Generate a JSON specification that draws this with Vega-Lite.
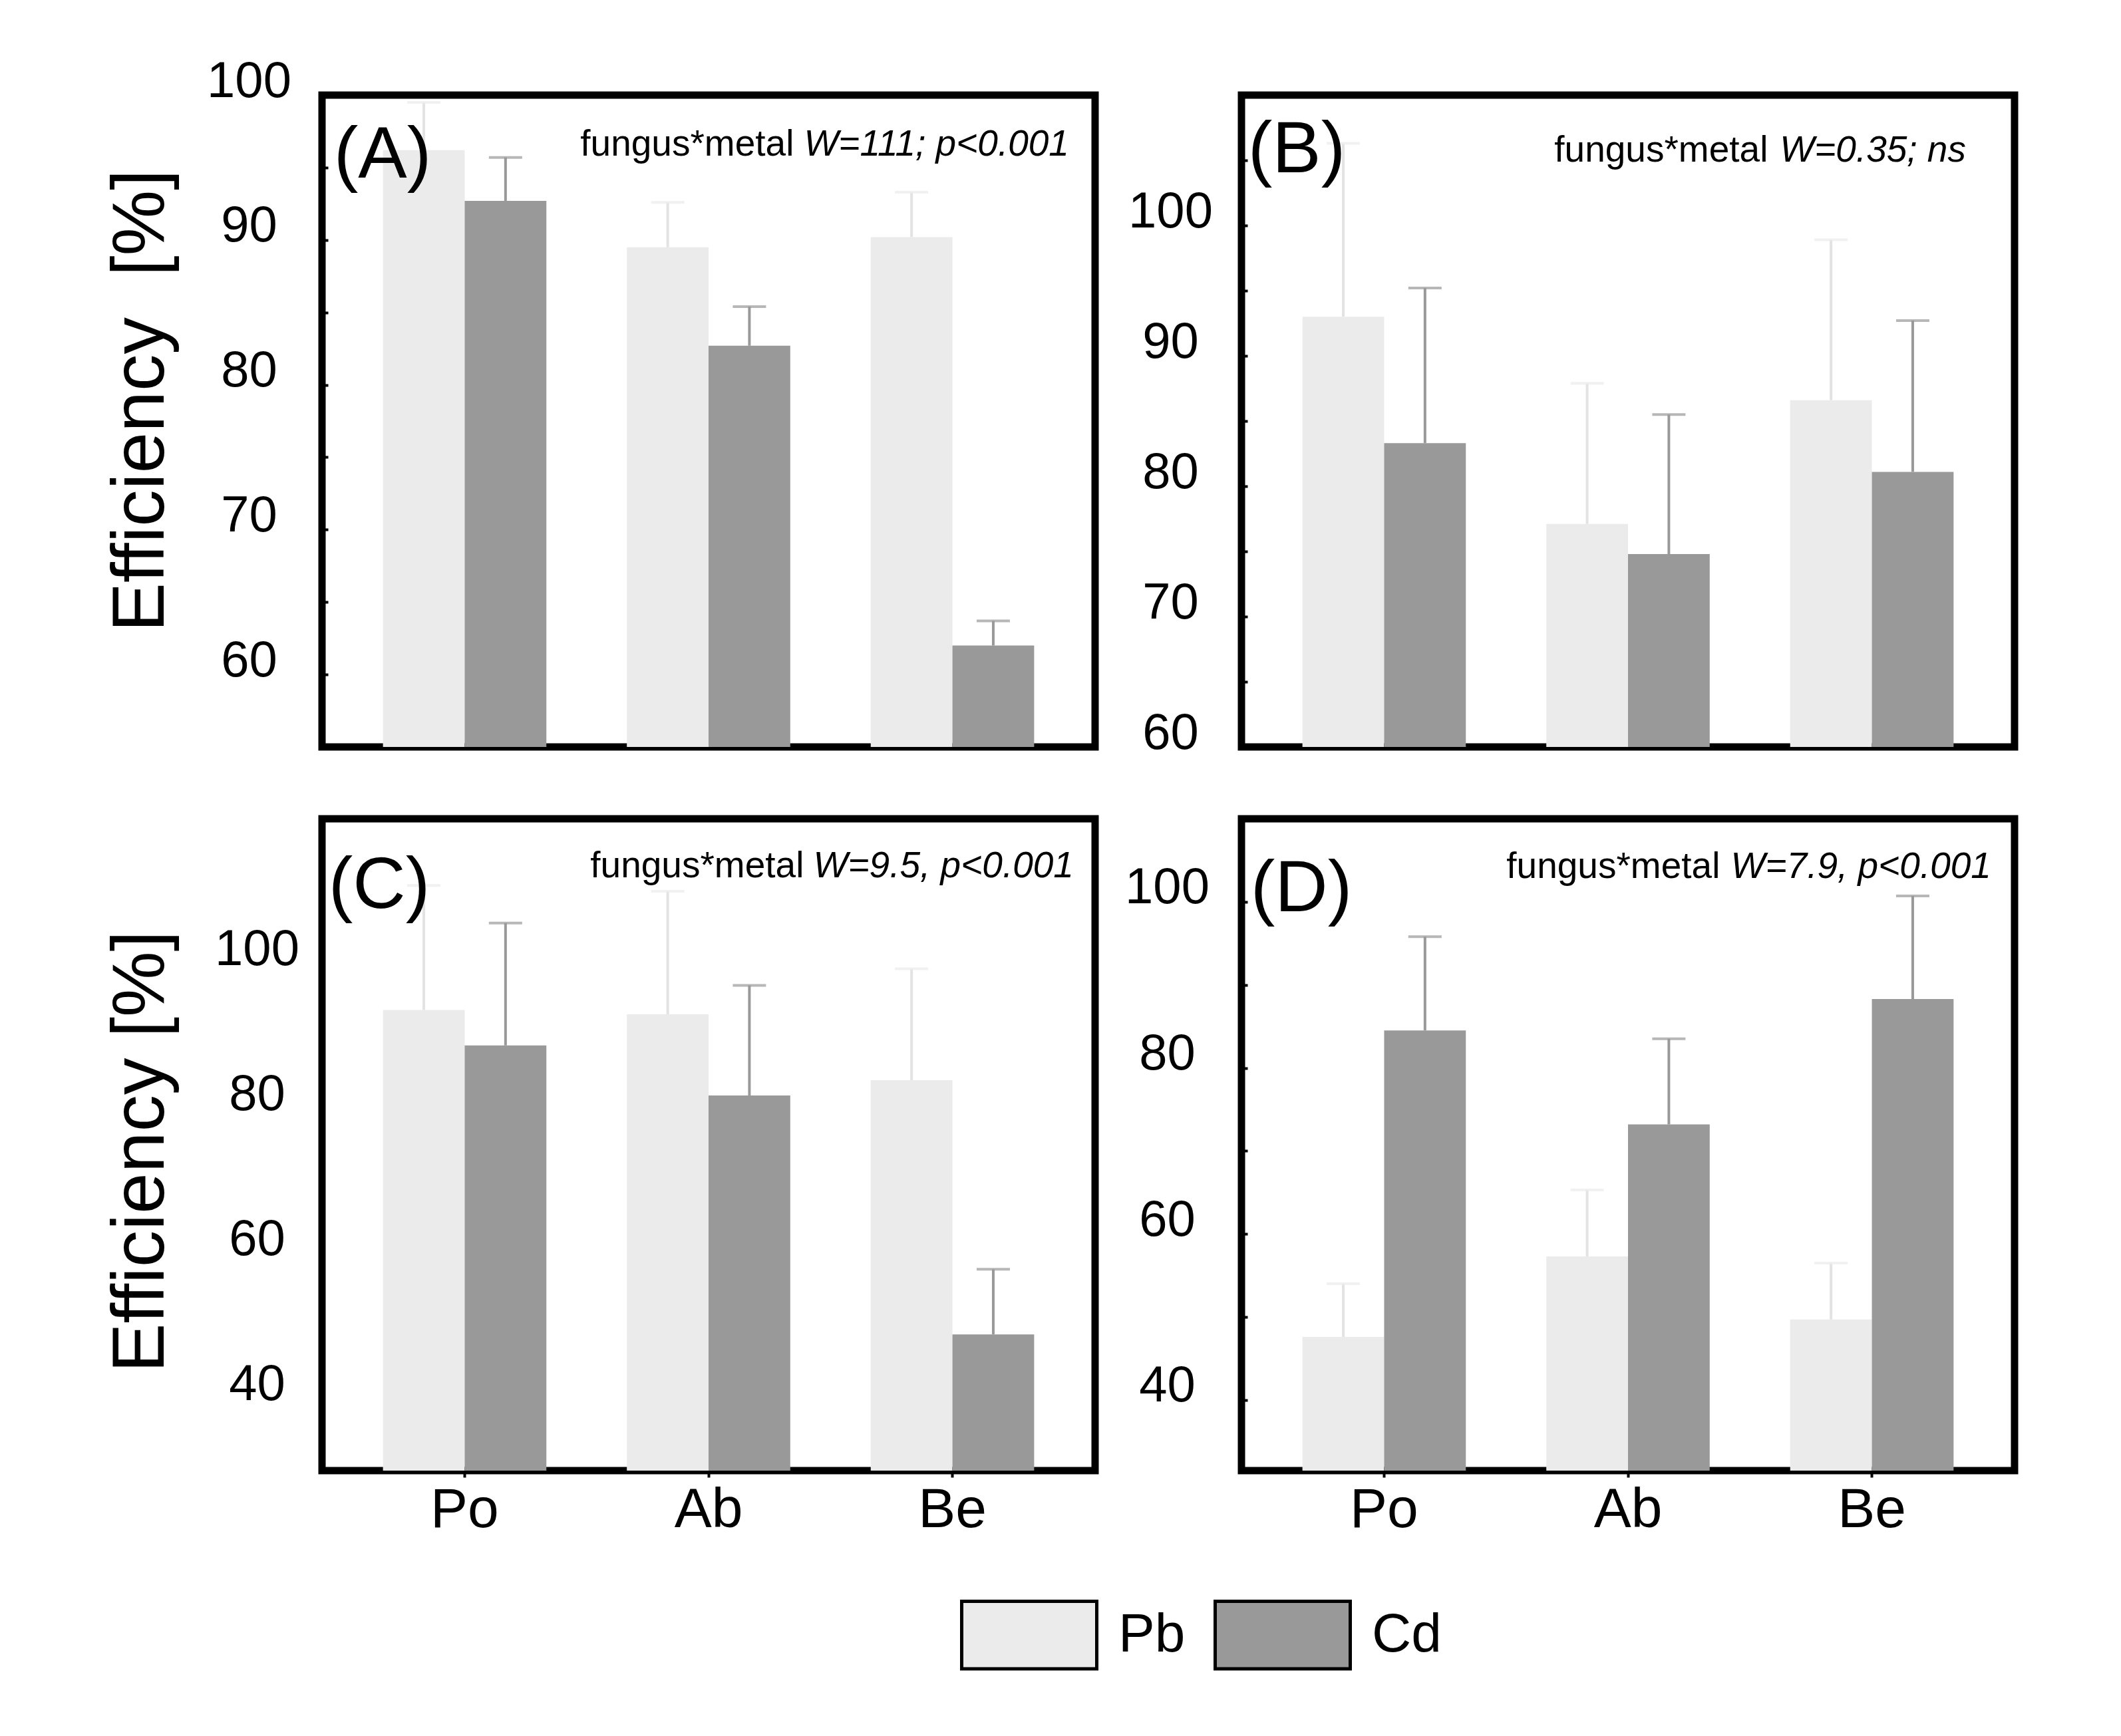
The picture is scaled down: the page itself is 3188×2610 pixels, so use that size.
{
  "$schema": "https://vega.github.io/schema/vega-lite/v6.json",
  "background": "white",
  "padding": {"left": 150, "top": 78, "right": 10, "bottom": 10},
  "datasets": {
    "bars": [
      {"panel": "A", "fungus": "Po", "metal": "Pb", "mean": 96.2, "upper": 99.5},
      {"panel": "A", "fungus": "Po", "metal": "Cd", "mean": 92.7, "upper": 95.7},
      {"panel": "A", "fungus": "Ab", "metal": "Pb", "mean": 89.5, "upper": 92.6},
      {"panel": "A", "fungus": "Ab", "metal": "Cd", "mean": 82.7, "upper": 85.4},
      {"panel": "A", "fungus": "Be", "metal": "Pb", "mean": 90.2, "upper": 93.3},
      {"panel": "A", "fungus": "Be", "metal": "Cd", "mean": 62.0, "upper": 63.7},
      {"panel": "B", "fungus": "Po", "metal": "Pb", "mean": 93.0, "upper": 106.3},
      {"panel": "B", "fungus": "Po", "metal": "Cd", "mean": 83.3, "upper": 95.2},
      {"panel": "B", "fungus": "Ab", "metal": "Pb", "mean": 77.1, "upper": 87.9},
      {"panel": "B", "fungus": "Ab", "metal": "Cd", "mean": 74.8, "upper": 85.5},
      {"panel": "B", "fungus": "Be", "metal": "Pb", "mean": 86.6, "upper": 98.9},
      {"panel": "B", "fungus": "Be", "metal": "Cd", "mean": 81.1, "upper": 92.7},
      {"panel": "C", "fungus": "Po", "metal": "Pb", "mean": 93.6, "upper": 110.8},
      {"panel": "C", "fungus": "Po", "metal": "Cd", "mean": 88.7, "upper": 105.6},
      {"panel": "C", "fungus": "Ab", "metal": "Pb", "mean": 93.0, "upper": 110.0},
      {"panel": "C", "fungus": "Ab", "metal": "Cd", "mean": 81.8, "upper": 97.0},
      {"panel": "C", "fungus": "Be", "metal": "Pb", "mean": 83.9, "upper": 99.3},
      {"panel": "C", "fungus": "Be", "metal": "Cd", "mean": 48.8, "upper": 57.8},
      {"panel": "D", "fungus": "Po", "metal": "Pb", "mean": 47.6, "upper": 54.0},
      {"panel": "D", "fungus": "Po", "metal": "Cd", "mean": 84.5, "upper": 95.8},
      {"panel": "D", "fungus": "Ab", "metal": "Pb", "mean": 57.3, "upper": 65.3},
      {"panel": "D", "fungus": "Ab", "metal": "Cd", "mean": 73.2, "upper": 83.5},
      {"panel": "D", "fungus": "Be", "metal": "Pb", "mean": 49.7, "upper": 56.5},
      {"panel": "D", "fungus": "Be", "metal": "Cd", "mean": 88.3, "upper": 100.7}
    ],
    "notes": [
      {"panel": "A", "letter": "(A)", "plain": "fungus*metal", "italic": "W=111; p<0.001"},
      {"panel": "B", "letter": "(B)", "plain": "fungus*metal", "italic": "W=0.35; ns"},
      {"panel": "C", "letter": "(C)", "plain": "fungus*metal", "italic": "W=9.5, p<0.001"},
      {"panel": "D", "letter": "(D)", "plain": "fungus*metal", "italic": "W=7.9, p<0.001"}
    ]
  },
  "columns": 2,
  "bounds": "flush",
  "spacing": {"row": 108, "column": 220},
  "concat": [
    {
      "width": 1162, "height": 980,
      "layer": [
        {
          "data": {"name": "bars"}, "transform": [{"filter": "datum.panel === 'A'"}],
          "mark": {"type": "bar", "clip": true},
          "encoding": {
            "x": {"field": "fungus", "type": "nominal", "title": null, "scale": {"domain": ["Po", "Ab", "Be"], "paddingInner": 0.33, "paddingOuter": 0.25}, "axis": {"labels": false, "ticks": false, "domain": false}},
            "xOffset": {"field": "metal", "type": "nominal", "scale": {"domain": ["Pb", "Cd"], "paddingInner": 0, "paddingOuter": 0}},
            "y": {"field": "mean", "type": "quantitative", "title": "Efficiency\u00a0\u00a0[%]", "scale": {"domain": [55, 100], "zero": false, "nice": false},
              "axis": {"values": [55, 60, 65, 70, 75, 80, 85, 90, 95, 100], "labelExpr": "datum.value % 10 === 0 ? datum.label : ''", "tickSize": -9, "tickWidth": 4, "labelPadding": 119, "labelAlign": "center", "labelBaseline": "alphabetic", "labelOffset": 2, "titleX": -239, "titleY": 459, "titleBaseline": "alphabetic", "titleAngle": -90}},
            "fill": {"field": "metal", "type": "nominal", "scale": {"domain": ["Pb", "Cd"], "range": ["#ebebeb", "#999999"]},
              "legend": {"orient": "none", "legendX": 959, "legendY": 2211, "direction": "horizontal", "title": null, "symbolType": "M-1,-0.5H1V0.5H-1Z", "symbolSize": 41209, "symbolStrokeColor": "black", "symbolStrokeWidth": 5, "symbolOpacity": 1, "labelFontSize": 82, "labelOffset": 30, "columnPadding": 34, "labelColor": "black"}}
          }
        },
        {
          "data": {"name": "bars"}, "transform": [{"filter": "datum.panel === 'A'"}],
          "mark": {"type": "rule", "strokeWidth": 4},
          "encoding": {
            "x": {"field": "fungus", "type": "nominal", "title": null},
            "xOffset": {"field": "metal", "type": "nominal"},
            "y": {"field": "mean", "type": "quantitative", "title": "Efficiency\u00a0\u00a0[%]"},
            "y2": {"field": "upper"},
            "stroke": {"field": "metal", "type": "nominal", "scale": {"domain": ["Cd", "Pb"], "range": ["#999999", "#e3e3e3"]}, "legend": null}
          }
        },
        {
          "data": {"name": "bars"}, "transform": [{"filter": "datum.panel === 'A'"}],
          "mark": {"type": "tick", "thickness": 4, "size": 50},
          "encoding": {
            "x": {"field": "fungus", "type": "nominal", "title": null},
            "xOffset": {"field": "metal", "type": "nominal"},
            "y": {"field": "upper", "type": "quantitative", "title": "Efficiency\u00a0\u00a0[%]"},
            "fill": {"field": "metal", "type": "nominal", "legend": null}
          }
        },
        {
          "data": {"name": "notes"}, "transform": [{"filter": "datum.panel === 'A'"}],
          "mark": {"type": "text", "align": "left", "baseline": "alphabetic", "fontSize": 110, "dx": -74, "color": "black"},
          "encoding": {
            "x": {"datum": "Po", "type": "nominal", "bandPosition": 0, "title": null},
            "y": {"datum": 94.3, "type": "quantitative", "title": "Efficiency\u00a0\u00a0[%]"},
            "text": {"field": "letter"}
          }
        },
        {
          "data": {"name": "notes"}, "transform": [{"filter": "datum.panel === 'A'"}],
          "mark": {"type": "text", "align": "right", "baseline": "alphabetic", "fontSize": 55, "fontStyle": "italic", "dx": 52.6, "color": "black"},
          "encoding": {
            "x": {"datum": "Be", "type": "nominal", "bandPosition": 1, "title": null},
            "y": {"datum": 95.8, "type": "quantitative", "title": "Efficiency\u00a0\u00a0[%]"},
            "text": {"field": "italic"}
          }
        },
        {
          "data": {"name": "notes"}, "transform": [{"filter": "datum.panel === 'A'"}],
          "mark": {"type": "text", "align": "right", "baseline": "alphabetic", "fontSize": 55, "dx": -361, "color": "black"},
          "encoding": {
            "x": {"datum": "Be", "type": "nominal", "bandPosition": 1, "title": null},
            "y": {"datum": 95.8, "type": "quantitative", "title": "Efficiency\u00a0\u00a0[%]"},
            "text": {"field": "plain"}
          }
        }
      ]
    },
    {
      "width": 1162, "height": 980,
      "layer": [
        {
          "data": {"name": "bars"}, "transform": [{"filter": "datum.panel === 'B'"}],
          "mark": {"type": "bar", "clip": true},
          "encoding": {
            "x": {"field": "fungus", "type": "nominal", "title": null, "scale": {"domain": ["Po", "Ab", "Be"], "paddingInner": 0.33, "paddingOuter": 0.25}, "axis": {"labels": false, "ticks": false, "domain": false}},
            "xOffset": {"field": "metal", "type": "nominal", "scale": {"domain": ["Pb", "Cd"], "paddingInner": 0, "paddingOuter": 0}},
            "y": {"field": "mean", "type": "quantitative", "title": null, "scale": {"domain": [60, 110], "zero": false, "nice": false},
              "axis": {"values": [60, 65, 70, 75, 80, 85, 90, 95, 100, 105, 110], "labelExpr": "datum.value % 10 === 0 && datum.value <= 100 ? datum.label : ''", "tickSize": -9, "tickWidth": 4, "labelPadding": 116, "labelAlign": "center", "labelBaseline": "alphabetic", "labelOffset": 2}},
            "fill": {"field": "metal", "type": "nominal", "legend": null}
          }
        },
        {
          "data": {"name": "bars"}, "transform": [{"filter": "datum.panel === 'B'"}],
          "mark": {"type": "rule", "strokeWidth": 4},
          "encoding": {
            "x": {"field": "fungus", "type": "nominal", "title": null},
            "xOffset": {"field": "metal", "type": "nominal"},
            "y": {"field": "mean", "type": "quantitative", "title": null},
            "y2": {"field": "upper"},
            "stroke": {"field": "metal", "type": "nominal", "legend": null}
          }
        },
        {
          "data": {"name": "bars"}, "transform": [{"filter": "datum.panel === 'B'"}],
          "mark": {"type": "tick", "thickness": 4, "size": 50},
          "encoding": {
            "x": {"field": "fungus", "type": "nominal", "title": null},
            "xOffset": {"field": "metal", "type": "nominal"},
            "y": {"field": "upper", "type": "quantitative", "title": null},
            "fill": {"field": "metal", "type": "nominal", "legend": null}
          }
        },
        {
          "data": {"name": "notes"}, "transform": [{"filter": "datum.panel === 'B'"}],
          "mark": {"type": "text", "align": "left", "baseline": "alphabetic", "fontSize": 110, "dx": -82, "color": "black"},
          "encoding": {
            "x": {"datum": "Po", "type": "nominal", "bandPosition": 0, "title": null},
            "y": {"datum": 104.1, "type": "quantitative", "title": null},
            "text": {"field": "letter"}
          }
        },
        {
          "data": {"name": "notes"}, "transform": [{"filter": "datum.panel === 'B'"}],
          "mark": {"type": "text", "align": "right", "baseline": "alphabetic", "fontSize": 55, "fontStyle": "italic", "dx": 18.6, "color": "black"},
          "encoding": {
            "x": {"datum": "Be", "type": "nominal", "bandPosition": 1, "title": null},
            "y": {"datum": 104.9, "type": "quantitative", "title": null},
            "text": {"field": "italic"}
          }
        },
        {
          "data": {"name": "notes"}, "transform": [{"filter": "datum.panel === 'B'"}],
          "mark": {"type": "text", "align": "right", "baseline": "alphabetic", "fontSize": 55, "dx": -279, "color": "black"},
          "encoding": {
            "x": {"datum": "Be", "type": "nominal", "bandPosition": 1, "title": null},
            "y": {"datum": 104.9, "type": "quantitative", "title": null},
            "text": {"field": "plain"}
          }
        }
      ]
    },
    {
      "width": 1162, "height": 980,
      "layer": [
        {
          "data": {"name": "bars"}, "transform": [{"filter": "datum.panel === 'C'"}],
          "mark": {"type": "bar", "clip": true},
          "encoding": {
            "x": {"field": "fungus", "type": "nominal", "title": null, "scale": {"domain": ["Po", "Ab", "Be"], "paddingInner": 0.33, "paddingOuter": 0.25}, "axis": {"labels": true, "ticks": true, "tickSize": 10, "tickWidth": 4, "labelPadding": 8, "labelFontSize": 84, "labelAngle": 0, "domain": false}},
            "xOffset": {"field": "metal", "type": "nominal", "scale": {"domain": ["Pb", "Cd"], "paddingInner": 0, "paddingOuter": 0}},
            "y": {"field": "mean", "type": "quantitative", "title": "Efficiency [%]", "scale": {"domain": [30, 120], "zero": false, "nice": false},
              "axis": {"values": [40, 60, 80, 100], "ticks": false, "labelPadding": 98, "labelAlign": "center", "labelBaseline": "alphabetic", "labelOffset": 2, "titleX": -239, "titleY": 500, "titleBaseline": "alphabetic", "titleAngle": -90}},
            "fill": {"field": "metal", "type": "nominal", "legend": null}
          }
        },
        {
          "data": {"name": "bars"}, "transform": [{"filter": "datum.panel === 'C'"}],
          "mark": {"type": "rule", "strokeWidth": 4},
          "encoding": {
            "x": {"field": "fungus", "type": "nominal", "title": null},
            "xOffset": {"field": "metal", "type": "nominal"},
            "y": {"field": "mean", "type": "quantitative", "title": "Efficiency [%]"},
            "y2": {"field": "upper"},
            "stroke": {"field": "metal", "type": "nominal", "legend": null}
          }
        },
        {
          "data": {"name": "bars"}, "transform": [{"filter": "datum.panel === 'C'"}],
          "mark": {"type": "tick", "thickness": 4, "size": 50},
          "encoding": {
            "x": {"field": "fungus", "type": "nominal", "title": null},
            "xOffset": {"field": "metal", "type": "nominal"},
            "y": {"field": "upper", "type": "quantitative", "title": "Efficiency [%]"},
            "fill": {"field": "metal", "type": "nominal", "legend": null}
          }
        },
        {
          "data": {"name": "notes"}, "transform": [{"filter": "datum.panel === 'C'"}],
          "mark": {"type": "text", "align": "left", "baseline": "alphabetic", "fontSize": 110, "dx": -82, "color": "black"},
          "encoding": {
            "x": {"datum": "Po", "type": "nominal", "bandPosition": 0, "title": null},
            "y": {"datum": 107.7, "type": "quantitative", "title": "Efficiency [%]"},
            "text": {"field": "letter"}
          }
        },
        {
          "data": {"name": "notes"}, "transform": [{"filter": "datum.panel === 'C'"}],
          "mark": {"type": "text", "align": "right", "baseline": "alphabetic", "fontSize": 55, "fontStyle": "italic", "dx": 59.6, "color": "black"},
          "encoding": {
            "x": {"datum": "Be", "type": "nominal", "bandPosition": 1, "title": null},
            "y": {"datum": 111.9, "type": "quantitative", "title": "Efficiency [%]"},
            "text": {"field": "italic"}
          }
        },
        {
          "data": {"name": "notes"}, "transform": [{"filter": "datum.panel === 'C'"}],
          "mark": {"type": "text", "align": "right", "baseline": "alphabetic", "fontSize": 55, "dx": -346, "color": "black"},
          "encoding": {
            "x": {"datum": "Be", "type": "nominal", "bandPosition": 1, "title": null},
            "y": {"datum": 111.9, "type": "quantitative", "title": "Efficiency [%]"},
            "text": {"field": "plain"}
          }
        }
      ]
    },
    {
      "width": 1162, "height": 980,
      "layer": [
        {
          "data": {"name": "bars"}, "transform": [{"filter": "datum.panel === 'D'"}],
          "mark": {"type": "bar", "clip": true},
          "encoding": {
            "x": {"field": "fungus", "type": "nominal", "title": null, "scale": {"domain": ["Po", "Ab", "Be"], "paddingInner": 0.33, "paddingOuter": 0.25}, "axis": {"labels": true, "ticks": true, "tickSize": 10, "tickWidth": 4, "labelPadding": 8, "labelFontSize": 84, "labelAngle": 0, "domain": false}},
            "xOffset": {"field": "metal", "type": "nominal", "scale": {"domain": ["Pb", "Cd"], "paddingInner": 0, "paddingOuter": 0}},
            "y": {"field": "mean", "type": "quantitative", "title": null, "scale": {"domain": [31.5, 110], "zero": false, "nice": false},
              "axis": {"values": [40, 50, 60, 70, 80, 90, 100], "labelExpr": "datum.value % 20 === 0 ? datum.label : ''", "tickSize": -9, "tickWidth": 4, "labelPadding": 121, "labelAlign": "center", "labelBaseline": "alphabetic", "labelOffset": 2}},
            "fill": {"field": "metal", "type": "nominal", "legend": null}
          }
        },
        {
          "data": {"name": "bars"}, "transform": [{"filter": "datum.panel === 'D'"}],
          "mark": {"type": "rule", "strokeWidth": 4},
          "encoding": {
            "x": {"field": "fungus", "type": "nominal", "title": null},
            "xOffset": {"field": "metal", "type": "nominal"},
            "y": {"field": "mean", "type": "quantitative", "title": null},
            "y2": {"field": "upper"},
            "stroke": {"field": "metal", "type": "nominal", "legend": null}
          }
        },
        {
          "data": {"name": "bars"}, "transform": [{"filter": "datum.panel === 'D'"}],
          "mark": {"type": "tick", "thickness": 4, "size": 50},
          "encoding": {
            "x": {"field": "fungus", "type": "nominal", "title": null},
            "xOffset": {"field": "metal", "type": "nominal"},
            "y": {"field": "upper", "type": "quantitative", "title": null},
            "fill": {"field": "metal", "type": "nominal", "legend": null}
          }
        },
        {
          "data": {"name": "notes"}, "transform": [{"filter": "datum.panel === 'D'"}],
          "mark": {"type": "text", "align": "left", "baseline": "alphabetic", "fontSize": 110, "dx": -78, "color": "black"},
          "encoding": {
            "x": {"datum": "Po", "type": "nominal", "bandPosition": 0, "title": null},
            "y": {"datum": 98.9, "type": "quantitative", "title": null},
            "text": {"field": "letter"}
          }
        },
        {
          "data": {"name": "notes"}, "transform": [{"filter": "datum.panel === 'D'"}],
          "mark": {"type": "text", "align": "right", "baseline": "alphabetic", "fontSize": 55, "fontStyle": "italic", "dx": 56.6, "color": "black"},
          "encoding": {
            "x": {"datum": "Be", "type": "nominal", "bandPosition": 1, "title": null},
            "y": {"datum": 102.9, "type": "quantitative", "title": null},
            "text": {"field": "italic"}
          }
        },
        {
          "data": {"name": "notes"}, "transform": [{"filter": "datum.panel === 'D'"}],
          "mark": {"type": "text", "align": "right", "baseline": "alphabetic", "fontSize": 55, "dx": -351, "color": "black"},
          "encoding": {
            "x": {"datum": "Be", "type": "nominal", "bandPosition": 1, "title": null},
            "y": {"datum": 102.9, "type": "quantitative", "title": null},
            "text": {"field": "plain"}
          }
        }
      ]
    }
  ],
  "config": {
    "font": "Liberation Sans",
    "view": {"stroke": "black", "strokeWidth": 11},
    "axis": {"grid": false, "domain": false, "labelColor": "black", "titleColor": "black", "tickColor": "black", "labelFontSize": 76, "titleFontSize": 111, "titleFontWeight": "normal", "labelFont": "Liberation Sans", "titleFont": "Liberation Sans"},
    "legend": {"labelFont": "Liberation Sans"},
    "text": {"font": "Liberation Sans"}
  }
}
